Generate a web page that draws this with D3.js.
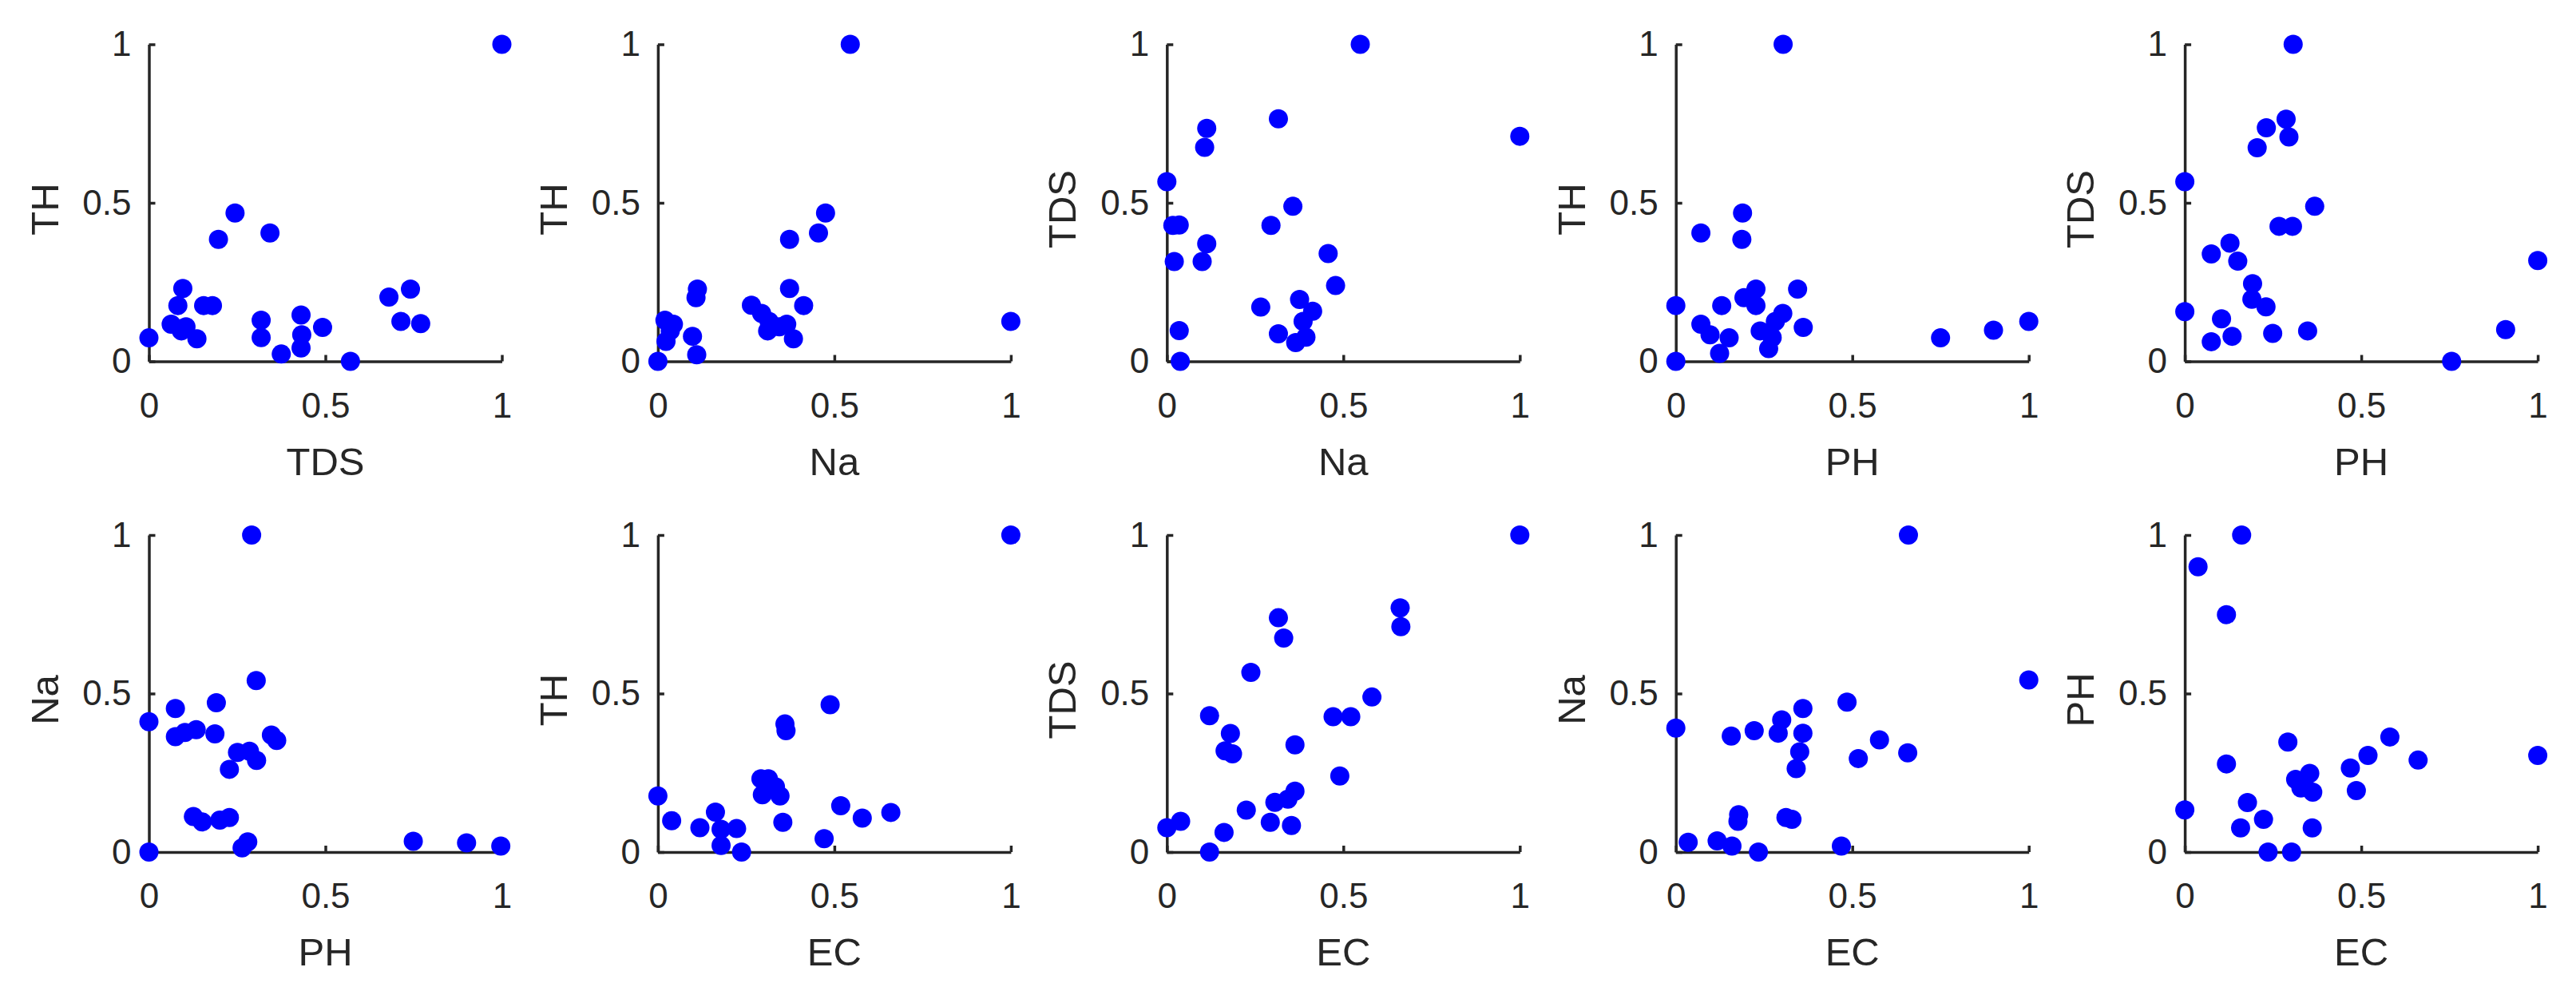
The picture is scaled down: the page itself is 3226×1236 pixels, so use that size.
<!DOCTYPE html>
<html>
<head>
<meta charset="utf-8">
<script src="https://cdn.jsdelivr.net/npm/d3@7"></script>
<style>
  body { margin: 0; background: #fff; }
  text { font-family: "Liberation Sans", Arial, Helvetica, sans-serif; fill: #262626; }
</style>
</head>
<body>
<svg width="3226" height="1236"></svg>
<script>
// normalised values
// panel 1: TDS vs TH
const tdsTh_x = [1.00, 0.244, 0.197, 0.343, 0.096, 0.082, 0.155, 0.18, 0.063, 0.092, 0.105, 0.136, 0.00, 0.318, 0.318, 0.375, 0.431, 0.433, 0.431, 0.492, 0.571, 0.68, 0.741, 0.714, 0.77];
const tdsTh_y = [1.00, 0.468, 0.385, 0.405, 0.230, 0.176, 0.176, 0.176, 0.117, 0.096, 0.109, 0.071, 0.074, 0.130, 0.075, 0.023, 0.146, 0.084, 0.042, 0.107, 0.0, 0.203, 0.228, 0.126, 0.119];
// panel 2: Na vs TH
const naTh_x = [0.545, 0.475, 0.455, 0.373, 0.112, 0.108, 0.265, 0.373, 0.413, 0.294, 0.315, 0.311, 0.365, 0.384, 0.344, 0.02, 0.035, 0.023, 0.0, 0.098, 0.11, 1.0, 0.044];
const naTh_y = [1.0, 0.468, 0.405, 0.385, 0.228, 0.201, 0.177, 0.230, 0.176, 0.151, 0.126, 0.096, 0.117, 0.071, 0.109, 0.130, 0.096, 0.063, 0.0, 0.079, 0.021, 0.126, 0.117];
// panel 3: Na vs TDS
const naTds_x = [0.548, 1.0, 0.316, 0.113, 0.107, 0.0, 0.357, 0.295, 0.017, 0.035, 0.113, 0.10, 0.021, 0.457, 0.478, 0.266, 0.376, 0.413, 0.386, 0.316, 0.394, 0.365, 0.035, 0.038];
const naTds_y = [1.0, 0.71, 0.765, 0.735, 0.675, 0.567, 0.489, 0.429, 0.429, 0.43, 0.371, 0.315, 0.315, 0.34, 0.239, 0.171, 0.195, 0.158, 0.126, 0.087, 0.076, 0.059, 0.097, 0.0];
// panel 4: PH vs TH
const phTh_x = [0.304, 0.189, 0.071, 0.187, 0.0, 0.13, 0.227, 0.193, 0.227, 0.345, 0.071, 0.097, 0.151, 0.124, 0.0, 0.303, 0.282, 0.239, 0.273, 0.263, 0.361, 0.75, 0.90, 1.0];
const phTh_y = [1.0, 0.468, 0.405, 0.385, 0.176, 0.176, 0.228, 0.201, 0.176, 0.228, 0.117, 0.084, 0.074, 0.025, 0.0, 0.151, 0.126, 0.096, 0.075, 0.04, 0.107, 0.074, 0.098, 0.126];
// panel 5: PH vs TDS
const phTds_x = [0.307, 0.287, 0.231, 0.295, 0.205, 0.0, 0.368, 0.267, 0.305, 0.128, 0.075, 0.15, 1.0, 0.192, 0.19, 0.23, 0.0, 0.104, 0.134, 0.075, 0.249, 0.348, 0.909, 0.756];
const phTds_y = [1.0, 0.764, 0.737, 0.708, 0.674, 0.567, 0.489, 0.426, 0.426, 0.373, 0.339, 0.316, 0.318, 0.245, 0.196, 0.172, 0.157, 0.134, 0.079, 0.062, 0.088, 0.096, 0.10, 0.0];
// panel 6: PH vs Na
const phNa_x = [0.291, 0.304, 0.075, 0.191, 0.0, 0.075, 0.102, 0.134, 0.187, 0.347, 0.362, 0.251, 0.285, 0.305, 0.228, 0.126, 0.151, 0.201, 0.228, 0.28, 0.264, 0.0, 0.749, 0.90, 0.997];
const phNa_y = [1.0, 0.541, 0.453, 0.471, 0.411, 0.364, 0.377, 0.386, 0.373, 0.369, 0.352, 0.314, 0.318, 0.289, 0.261, 0.112, 0.095, 0.101, 0.109, 0.032, 0.013, 0.0, 0.034, 0.029, 0.019];
// panel 7: EC vs TH
const ecTh_x = [1.0, 0.488, 0.36, 0.363, 0.292, 0.313, 0.333, 0.296, 0.346, 0.0, 0.039, 0.163, 0.119, 0.179, 0.223, 0.179, 0.237, 0.354, 0.471, 0.518, 0.579, 0.66];
const ecTh_y = [1.0, 0.465, 0.404, 0.383, 0.231, 0.231, 0.206, 0.181, 0.177, 0.177, 0.099, 0.126, 0.077, 0.072, 0.074, 0.021, 0.0, 0.094, 0.042, 0.146, 0.107, 0.125];
// panel 8: EC vs TDS
const ecTds_x = [1.0, 0.661, 0.663, 0.316, 0.331, 0.238, 0.581, 0.471, 0.521, 0.121, 0.18, 0.165, 0.186, 0.363, 0.49, 0.363, 0.343, 0.306, 0.225, 0.293, 0.353, 0.039, 0.0, 0.162, 0.121];
const ecTds_y = [1.0, 0.77, 0.711, 0.739, 0.675, 0.567, 0.489, 0.427, 0.427, 0.43, 0.374, 0.319, 0.31, 0.338, 0.24, 0.192, 0.167, 0.157, 0.132, 0.094, 0.084, 0.097, 0.077, 0.062, 0.0];
// panel 9: EC vs Na
const ecNa_x = [0.659, 1.0, 0.485, 0.36, 0.30, 0.0, 0.157, 0.222, 0.29, 0.36, 0.577, 0.351, 0.657, 0.517, 0.341, 0.178, 0.176, 0.312, 0.329, 0.035, 0.117, 0.159, 0.234, 0.469];
const ecNa_y = [1.0, 0.543, 0.473, 0.453, 0.417, 0.391, 0.366, 0.383, 0.375, 0.375, 0.354, 0.316, 0.313, 0.295, 0.263, 0.118, 0.097, 0.109, 0.103, 0.031, 0.035, 0.019, 0.0, 0.019];
// panel 10: EC vs PH
const ecPh_x = [0.161, 0.0375, 0.118, 0.581, 0.292, 0.519, 1.0, 0.661, 0.118, 0.469, 0.354, 0.314, 0.337, 0.3625, 0.329, 0.486, 0.0, 0.1775, 0.223, 0.158, 0.361, 0.236, 0.3025];
const ecPh_y = [1.0, 0.90, 0.749, 0.363, 0.347, 0.305, 0.305, 0.29, 0.278, 0.265, 0.248, 0.229, 0.219, 0.189, 0.202, 0.194, 0.133, 0.156, 0.103, 0.076, 0.076, 0.0, 0.0];

const tickVals = [0, 0.5, 1];

const panels = [
  {xl: "TDS", yl: "TH",  xs: tdsTh_x, ys: tdsTh_y},
  {xl: "Na",  yl: "TH",  xs: naTh_x,  ys: naTh_y},
  {xl: "Na",  yl: "TDS", xs: naTds_x, ys: naTds_y},
  {xl: "PH",  yl: "TH",  xs: phTh_x,  ys: phTh_y},
  {xl: "PH",  yl: "TDS", xs: phTds_x, ys: phTds_y},
  {xl: "PH",  yl: "Na",  xs: phNa_x,  ys: phNa_y},
  {xl: "EC",  yl: "TH",  xs: ecTh_x,  ys: ecTh_y},
  {xl: "EC",  yl: "TDS", xs: ecTds_x, ys: ecTds_y},
  {xl: "EC",  yl: "Na",  xs: ecNa_x,  ys: ecNa_y},
  {xl: "EC",  yl: "PH",  xs: ecPh_x,  ys: ecPh_y}
];

const svg = d3.select("svg");
svg.append("rect").attr("width", 3226).attr("height", 1236).attr("fill", "#fff");

// layout of the 2x5 grid
const w = 442, h = 397,
  colX = d3.range(5).map(i => 186.5 + i * 637.4),
  rowY = [55.5, 670];

const x = d3.scaleLinear().domain([0, 1]).range([0, w]);
const y = d3.scaleLinear().domain([0, 1]).range([h, 0]);

panels.forEach(function(p, i) {
  const g = svg.append("g")
    .attr("transform", "translate(" + colX[i % 5] + "," + rowY[Math.floor(i / 5)] + ")");

  // x axis, ticks pointing inwards like matlab
  const gx = g.append("g")
    .attr("transform", "translate(0," + h + ")")
    .call(d3.axisBottom(x).tickValues(tickVals).tickFormat(d3.format("")).tickSizeInner(-8).tickSizeOuter(0));
  gx.selectAll("text").attr("y", 70).attr("dy", null);

  const gy = g.append("g")
    .call(d3.axisLeft(y).tickValues(tickVals).tickFormat(d3.format("")).tickSizeInner(-8).tickSizeOuter(0).tickPadding(22));

  [gx, gy].forEach(a => {
    a.select(".domain").attr("stroke", "#262626").attr("stroke-width", 3.5);
    a.selectAll(".tick line").attr("stroke", "#262626").attr("stroke-width", 3.5);
    a.selectAll("text").style("font-size", "44px").attr("fill", "#262626")
      .style("font-family", "'Liberation Sans', Arial, sans-serif");
  });

  g.append("text")
    .attr("x", w / 2).attr("y", h + 142)
    .attr("text-anchor", "middle")
    .style("font-size", "49px")
    .text(p.xl);

  g.append("text")
    .attr("transform", "translate(-114," + (h / 2 + 8) + ") rotate(-90)")
    .attr("text-anchor", "middle")
    .style("font-size", "49px")
    .text(p.yl);

  g.selectAll("circle")
    .data(p.xs.map((v, k) => [v, p.ys[k]]))
    .enter().append("circle")
    .attr("cx", d => x(d[0]))
    .attr("cy", d => y(d[1]))
    .attr("r", 12)
    .attr("fill", "#0000ff");
});
</script>
</body>
</html>
